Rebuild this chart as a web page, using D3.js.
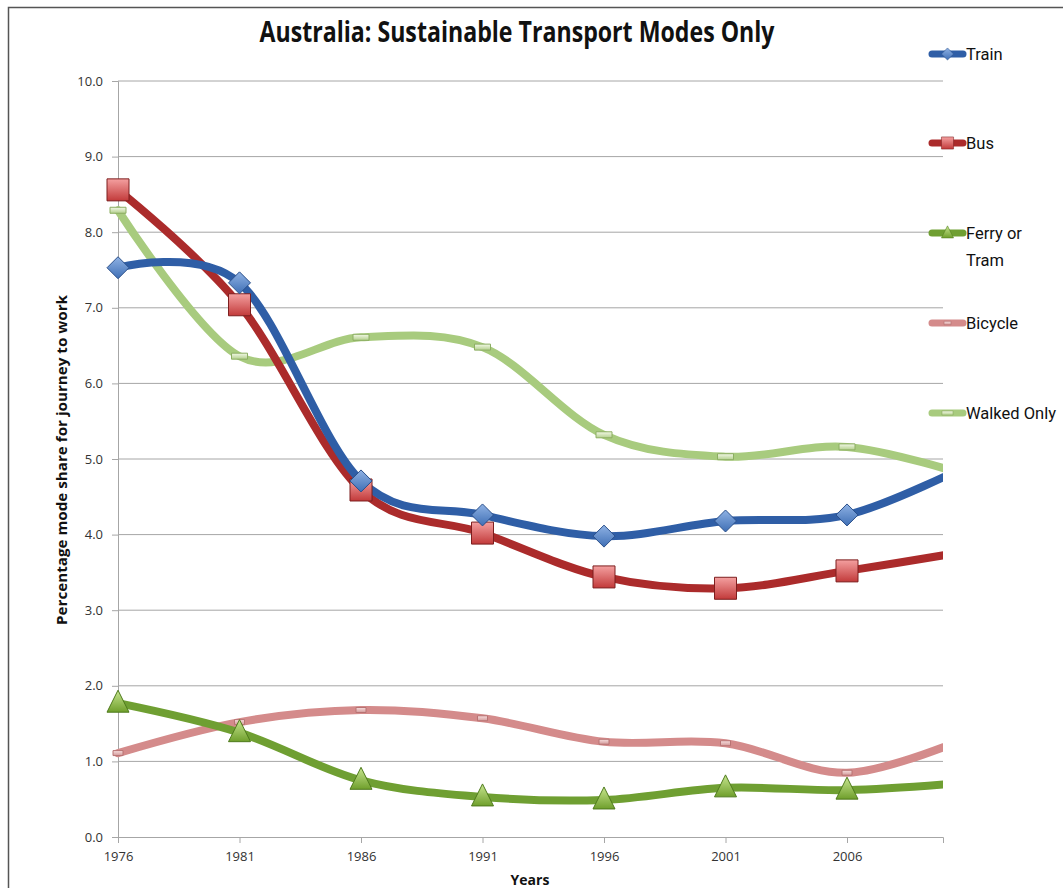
<!DOCTYPE html>
<html>
<head>
<meta charset="utf-8">
<script src="https://cdn.jsdelivr.net/npm/d3@7"></script>
<style>
  body { margin: 0; background: #fff; }
  svg { display: block; font-family: "Open Sans", sans-serif; }
</style>
</head>
<body>
<div id="chart"></div>
<script>
// Census years (last one runs past the right edge of the plot)
const years = [1976, 1981, 1986, 1991, 1996, 2001, 2006, 2011];
const tickYears = [1976, 1981, 1986, 1991, 1996, 2001, 2006];

// Percentage mode share for journey to work
const train   = [7.53, 7.33, 4.71, 4.26, 3.98, 4.18, 4.26, 4.92];
const bus     = [8.56, 7.04, 4.59, 4.02, 3.44, 3.29, 3.52, 3.78];
const ferry   = [1.77, 1.38, 0.75, 0.53, 0.49, 0.65, 0.62, 0.72];
const bicycle = [1.11, 1.52, 1.68, 1.57, 1.26, 1.24, 0.85, 1.32];
const walked  = [8.29, 6.36, 6.61, 6.48, 5.32, 5.03, 5.16, 4.78];

const seriesNames = ['Train', 'Bus', 'Ferry or Tram', 'Bicycle', 'Walked Only'];
const yTicks = [0, 1, 2, 3, 4, 5, 6, 7, 8, 9, 10];

const width = 1063, height = 888;
const margin = {top: 81, right: 120, bottom: 51, left: 118};
const plotW = width - margin.left - margin.right;
const plotH = height - margin.top - margin.bottom;

const svg = d3.select('#chart').append('svg')
  .attr('width', width).attr('height', height);

// chart border (only left/top visible in the frame)
svg.append('rect')
  .attr('x', 8.5).attr('y', 7.5)
  .attr('width', width + 20).attr('height', height + 20)
  .attr('fill', 'none').attr('stroke', '#555').attr('stroke-width', 1.5);

const x = d3.scaleLinear().domain([1976, 2009.95]).range([0, plotW]);
const y = d3.scaleLinear().domain([0, 10]).range([plotH, 0]);

const g = svg.append('g').attr('transform', `translate(${margin.left},${margin.top})`);

const defs = svg.append('defs');
defs.append('clipPath').attr('id', 'plotClip')
  .append('rect').attr('x', -20).attr('y', -20).attr('width', plotW + 20).attr('height', plotH + 40);

// gradients for markers
function grad(id, light, dark) {
  const lg = defs.append('linearGradient').attr('id', id)
    .attr('x1', 0).attr('y1', 0).attr('x2', 0).attr('y2', 1);
  lg.append('stop').attr('offset', '0%').attr('stop-color', light);
  lg.append('stop').attr('offset', '100%').attr('stop-color', dark);
}
grad('gTrain', '#8fb2e4', '#3f6fb5');
grad('gBus', '#f4a0a0', '#c23a3a');
grad('gFerry', '#c8e690', '#6f9f2c');
grad('gBike', '#f7dede', '#d39a9a');
grad('gWalk', '#f2f8e6', '#b4d08e');

// gridlines
g.append('g')
  .selectAll('line')
  .data(yTicks.filter(d => d > 0))
  .join('line')
  .attr('x1', 0).attr('x2', plotW)
  .attr('y1', d => y(d)).attr('y2', d => y(d))
  .attr('stroke', '#a6a6a6').attr('stroke-width', 1);

// y axis
const yAxis = g.append('g')
  .call(d3.axisLeft(y).tickValues(yTicks).tickFormat(d3.format('.1f')).tickSize(6).tickPadding(9));
yAxis.select('.domain').attr('stroke', '#a6a6a6');
yAxis.selectAll('.tick line').attr('stroke', '#a6a6a6');
yAxis.selectAll('.tick text').attr('font-size', 13).attr('fill', '#333')
  .attr('font-family', '"Open Sans", sans-serif');

// x axis
const xAxis = g.append('g').attr('transform', `translate(0,${plotH})`)
  .call(d3.axisBottom(x).tickValues(tickYears).tickFormat(d3.format('d')).tickSize(6).tickPadding(9));
xAxis.select('.domain').attr('stroke', '#a6a6a6');
xAxis.selectAll('.tick line').attr('stroke', '#a6a6a6');
xAxis.selectAll('.tick text').attr('font-size', 13).attr('fill', '#333')
  .attr('font-family', '"Open Sans", sans-serif');

// titles
svg.append('text')
  .attr('x', 517).attr('y', 42)
  .attr('text-anchor', 'middle')
  .attr('font-size', 28).attr('font-weight', 'bold').attr('fill', '#111')
  .attr('textLength', 515).attr('lengthAdjust', 'spacingAndGlyphs')
  .text('Australia: Sustainable Transport Modes Only');

svg.append('text')
  .attr('transform', 'translate(67,460) rotate(-90)')
  .attr('text-anchor', 'middle')
  .attr('font-size', 15).attr('font-weight', 'bold').attr('fill', '#111')
  .attr('textLength', 330).attr('lengthAdjust', 'spacingAndGlyphs')
  .text('Percentage mode share for journey to work');

svg.append('text')
  .attr('x', 530).attr('y', 885)
  .attr('text-anchor', 'middle')
  .attr('font-size', 14).attr('font-weight', 'bold').attr('fill', '#111')
  .text('Years');

const series = [
  {name: seriesNames[0], values: train,   color: '#2f5ea6', fill: 'url(#gTrain)', stroke: '#2a4f8a', marker: 'diamond', legendY: 54},
  {name: seriesNames[1], values: bus,     color: '#ab2b2b', fill: 'url(#gBus)',   stroke: '#7d1f1f', marker: 'square',  legendY: 143},
  {name: seriesNames[2], values: ferry,   color: '#6f9f32', fill: 'url(#gFerry)', stroke: '#4e7a1c', marker: 'triangle', legendY: 233},
  {name: seriesNames[3], values: bicycle, color: '#d48b8b', fill: 'url(#gBike)',  stroke: '#b87373', marker: 'dashSmall', legendY: 323},
  {name: seriesNames[4], values: walked,  color: '#a8cb7e', fill: 'url(#gWalk)',  stroke: '#8cae62', marker: 'dash', legendY: 413}
];

const line = d3.line()
  .x((d, i) => x(years[i]))
  .y(d => y(d))
  .curve(d3.curveCardinal.tension(0));

const lineLayer = g.append('g').attr('clip-path', 'url(#plotClip)');

// draw order: walked first (back), then bicycle, ferry, bus, train
const drawOrder = [4, 3, 2, 1, 0];

function markerPath(type) {
  if (type === 'diamond') return 'M0,-11 L11,0 L0,11 L-11,0 Z';
  if (type === 'square') return 'M-11,-11 H11 V11 H-11 Z';
  if (type === 'triangle') return 'M0,-13 L11,9 L-11,9 Z';
  if (type === 'dash') return 'M-8,-3 H8 V3 H-8 Z';
  return 'M-5,-2.5 H5 V2.5 H-5 Z';
}

drawOrder.forEach(idx => {
  const s = series[idx];
  lineLayer.append('path')
    .datum(s.values)
    .attr('d', line)
    .attr('fill', 'none')
    .attr('stroke', s.color)
    .attr('stroke-width', 8)
    .attr('stroke-linecap', 'round')
    .attr('stroke-linejoin', 'round');
});

drawOrder.forEach(idx => {
  const s = series[idx];
  lineLayer.append('g')
    .selectAll('path')
    .data(s.values.filter((d, i) => years[i] <= 2006))
    .join('path')
    .attr('transform', (d, i) => `translate(${x(years[i])},${y(d)})`)
    .attr('d', markerPath(s.marker))
    .attr('fill', s.fill)
    .attr('stroke', s.stroke)
    .attr('stroke-width', 1);
});

// legend
const legend = svg.append('g');
series.forEach(s => {
  const lg = legend.append('g').attr('transform', `translate(930,${s.legendY})`);
  lg.append('line')
    .attr('x1', 2).attr('x2', 33)
    .attr('stroke', s.color).attr('stroke-width', 7).attr('stroke-linecap', 'round');
  const sc = s.marker === 'dash' || s.marker === 'dashSmall' ? 0.7 : 0.55;
  lg.append('path')
    .attr('transform', `translate(17.5,0) scale(${sc})`)
    .attr('d', markerPath(s.marker))
    .attr('fill', s.fill).attr('stroke', s.stroke);
  const words = s.name === 'Ferry or Tram' ? ['Ferry or', 'Tram'] : [s.name];
  const t = lg.append('text')
    .attr('x', 36).attr('y', 6)
    .attr('font-family', 'Roboto, sans-serif')
    .attr('font-size', 16.5).attr('fill', '#111');
  words.forEach((w, i) => {
    t.append('tspan').attr('x', 36).attr('dy', i === 0 ? 0 : 27).text(w);
  });
});
</script>
</body>
</html>
